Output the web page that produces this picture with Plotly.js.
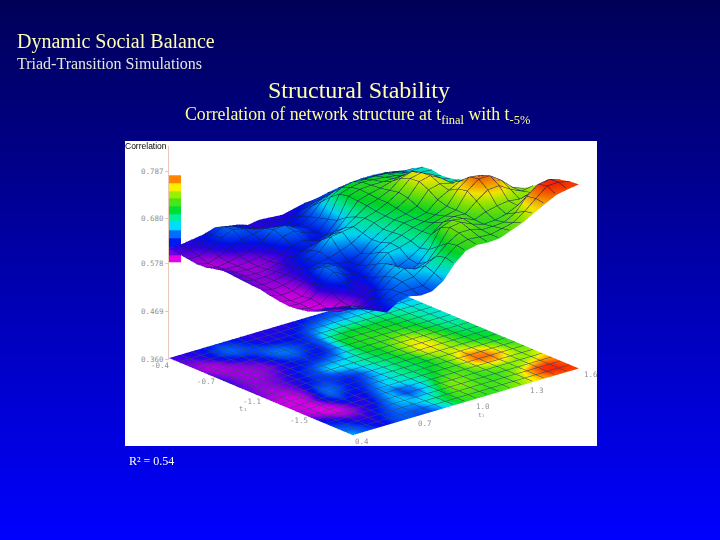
<!DOCTYPE html>
<html><head><meta charset="utf-8">
<script src="https://cdn.plot.ly/plotly-3.0.1.min.js"></script>
<style>html,body{margin:0;padding:0;width:720px;height:540px;overflow:hidden;background:linear-gradient(#000058,#0000ff);}</style>
</head><body><div id="chart" style="width:720px;height:540px"></div>
<script>
// tFar is t1 with its sign flipped, so it grows from the left corner to the front corner; t2 from the front corner to the right corner
const tFar = [0.4,0.47,0.54,0.61,0.68,0.75,0.82,0.89,0.96,1.03,1.1,1.17,1.24,1.31,1.38,1.45,1.52,1.59,1.66,1.73,1.8];
const t2 = [0.4,0.46,0.52,0.58,0.64,0.7,0.76,0.82,0.88,0.94,1.0,1.06,1.12,1.18,1.24,1.3,1.36,1.42,1.48,1.54,1.6];
// correlation x 1000, one row per t2, one column per t1
const corrRows = [
[610,608,605,602,603,608,612,610,608,606,605,600,596,594,596,600,612,625,635,645,655],
[612,610,604,596,596,600,602,602,602,600,598,594,590,592,590,592,604,618,630,638,640],
[616,616,612,604,600,600,600,600,602,602,600,596,592,596,592,586,592,606,616,624,630],
[620,628,630,618,606,602,600,602,606,608,608,608,612,622,612,600,598,606,612,616,618],
[628,640,642,628,612,606,604,608,612,616,620,632,645,642,628,618,612,616,624,632,634],
[624,632,636,632,626,618,612,616,624,628,628,636,640,628,616,612,618,630,638,640,640],
[620,622,628,638,644,636,624,622,632,638,632,628,622,620,624,632,642,650,648,640,634],
[612,612,618,634,646,642,630,626,648,664,640,624,626,634,646,656,660,662,652,640,636],
[616,616,616,626,634,630,620,632,654,668,650,636,644,656,664,640,634,654,670,662,652],
[614,616,620,622,626,622,626,644,660,672,666,660,662,670,668,652,648,662,684,690,684],
[612,618,626,634,640,646,652,668,678,684,682,676,678,680,676,668,674,690,706,710,706],
[618,626,642,660,680,696,700,698,696,692,690,690,692,690,690,692,716,726,722,716,712],
[624,634,652,674,694,704,708,706,704,704,700,696,694,696,702,712,726,730,722,714,710],
[626,640,660,680,700,708,710,712,716,720,716,706,700,704,710,718,722,718,714,712,712],
[632,644,660,680,698,706,710,720,736,744,746,736,722,716,716,716,712,710,714,718,722],
[636,650,666,684,698,704,710,726,744,750,752,742,736,748,752,738,722,712,716,724,732],
[640,652,668,684,696,700,706,716,730,738,738,736,750,768,772,756,728,718,730,742,746],
[642,652,668,682,690,694,698,704,712,716,718,722,742,764,772,758,732,730,760,764,760],
[642,650,664,676,682,684,686,690,694,698,702,708,726,746,754,742,728,748,780,785,773],
[640,650,660,670,676,676,678,680,686,690,696,702,712,722,730,730,736,762,784,786,778],
[636,646,660,672,674,670,672,678,690,692,695,700,708,712,720,735,750,765,775,780,782]
];
const zTickVals = [0.36,0.469,0.578,0.68,0.787];
const zTickText = ['0.360','0.469','0.578','0.680','0.787'];
const legendBands = [0.588,0.605,0.624,0.643,0.663,0.681,0.698,0.716,0.734,0.749,0.768];

const corr = corrRows.map(r => r.map(v => v/1000));
const floorZ = corrRows.map(r => r.map(() => 0.36));
const cmin = 0.58, cmax = 0.787;
const stop = (z,c) => [(z-cmin)/(cmax-cmin), c];
const rainbow = [
  stop(0.58,'#ff00e6'),stop(0.59,'#e000e6'),stop(0.60,'#a000e0'),stop(0.612,'#3000e8'),stop(0.622,'#0010f0'),
  stop(0.643,'#006eff'),stop(0.663,'#00dcff'),stop(0.681,'#00f0a0'),stop(0.70,'#00dc28'),
  stop(0.735,'#a0f000'),stop(0.75,'#fff000'),stop(0.77,'#ff7800'),stop(0.787,'#ff1e00')];
const gridLine = (arr, color, w) => ({show:true,start:Math.min(...arr),end:Math.max(...arr),size:Math.abs(arr[1]-arr[0]),color:color,width:w,highlight:false});
const tickNote = (x,y,text,xs,ys) => ({x:x,y:y,z:0.36,text:text,showarrow:false,xshift:xs,yshift:ys,font:{family:'DejaVu Sans Mono',size:7.5,color:'#909090'}});

const surfaceBase = {type:'surface',x:tFar,y:t2,surfacecolor:corr,colorscale:rainbow,cmin:cmin,cmax:cmax,showscale:false,hoverinfo:'skip'};
const data = [
  Object.assign({},surfaceBase,{z:corr,
    lighting:{ambient:0.95,diffuse:0.3,specular:0,roughness:0.9,fresnel:0},
    lightposition:{x:1000,y:-600,z:1500},
    contours:{x:gridLine(tFar,'#102060',1),y:gridLine(t2,'#102060',1),z:{show:false}}}),
  Object.assign({},surfaceBase,{z:floorZ,
    lighting:{ambient:1,diffuse:0,specular:0,roughness:1,fresnel:0},
    contours:{x:gridLine(tFar,'#2a4a70',1),y:gridLine(t2,'#2a4a70',1),z:{show:false}}}),
  {type:'heatmap',xaxis:'x',yaxis:'y',x:[0],y:legendBands,z:legendBands.map(v=>[v]),colorscale:rainbow,zmin:cmin,zmax:cmax,showscale:false,hoverinfo:'skip'}
];
const axis3 = {title:{text:''},showgrid:false,zeroline:false,showline:false,showticklabels:false,ticks:'',showbackground:false,showspikes:false};
const px = v => v/720, py = v => 1-v/540;
const note = (x,y,text,size,color,anchor) => ({xref:'paper',yref:'paper',x:px(x),y:py(y),text:text,showarrow:false,xanchor:anchor||'left',yanchor:'middle',font:{family:'Liberation Serif',size:size,color:color}});
const layout = {
  width:720,height:540,margin:{l:0,r:0,t:0,b:0},showlegend:false,
  paper_bgcolor:'rgba(0,0,0,0)',plot_bgcolor:'rgba(0,0,0,0)',
  shapes:[{type:'rect',xref:'paper',yref:'paper',x0:px(125),x1:px(597),y0:py(446),y1:py(141),fillcolor:'#ffffff',line:{width:0},layer:'below'}],
  xaxis:{domain:[px(169),px(181)],range:[-0.5,0.5],visible:false,fixedrange:true},
  yaxis:{domain:[py(360),py(146)],range:[0.358,0.844],tickvals:zTickVals,ticktext:zTickText,ticks:'outside',ticklen:3,tickcolor:'#e8c8b8',
    showline:true,linecolor:'#e8c8b8',linewidth:1,showgrid:false,zeroline:false,tickfont:{family:'DejaVu Sans Mono',size:7.5,color:'#909090'},fixedrange:true},
  scene:{domain:{x:[px(28),1],y:[py(536),py(6)]},
    aspectmode:'manual',aspectratio:{x:1.08,y:1.114,z:0.758},
    camera:{eye:{x:1.36,y:-1.14,z:0.667},center:{x:0,y:0,z:0},up:{x:0,y:0,z:1},projection:{type:'orthographic'}},
    xaxis:Object.assign({},axis3,{range:[0.4,1.8]}),
    yaxis:Object.assign({},axis3,{range:[0.4,1.6]}),
    zaxis:Object.assign({},axis3,{range:[0.356,0.787]}),
    annotations:[
      tickNote(0.4,0.4,'-0.4',-8,-7),tickNote(0.75,0.4,'-0.7',-9,-4),tickNote(1.1,0.4,'-1.1',-9,-5),tickNote(1.45,0.4,'-1.5',-8,-5),
      tickNote(1.8,0.4,'0.4',9,-6),tickNote(1.8,0.7,'0.7',16,-5),tickNote(1.8,1.0,'1.0',17,-5),tickNote(1.8,1.3,'1.3',15,-5),tickNote(1.8,1.6,'1.6',12,-6)
    ]},
  annotations:[
    note(15,42,'Dynamic Social Balance',20,'#ffffb4'),
    note(15,63,'Triad-Transition Simulations',16,'#e6e6dc'),
    note(266,90,'Structural Stability',24,'#ffffaa'),
    note(183,116,'Correlation of network structure at t<sub>final</sub> with t<sub>-5%</sub>',17.8,'#ffff96'),
    note(127,461,'R² = 0.54',12,'#ffffff'),
    {xref:'paper',yref:'paper',x:px(123),y:py(146),text:'Correlation',showarrow:false,xanchor:'left',yanchor:'middle',font:{family:'Liberation Sans',size:8.5,color:'#000'}},
    {xref:'paper',yref:'paper',x:px(243),y:py(409),text:'t₁',showarrow:false,yanchor:'middle',font:{family:'DejaVu Sans Mono',size:7,color:'#909090'}},
    {xref:'paper',yref:'paper',x:px(487),y:py(414),text:'t₂',showarrow:false,yanchor:'middle',font:{family:'DejaVu Sans Mono',size:6,color:'#909090'}}
  ]
};
Plotly.newPlot('chart',data,layout,{displayModeBar:false});
</script></body></html>
